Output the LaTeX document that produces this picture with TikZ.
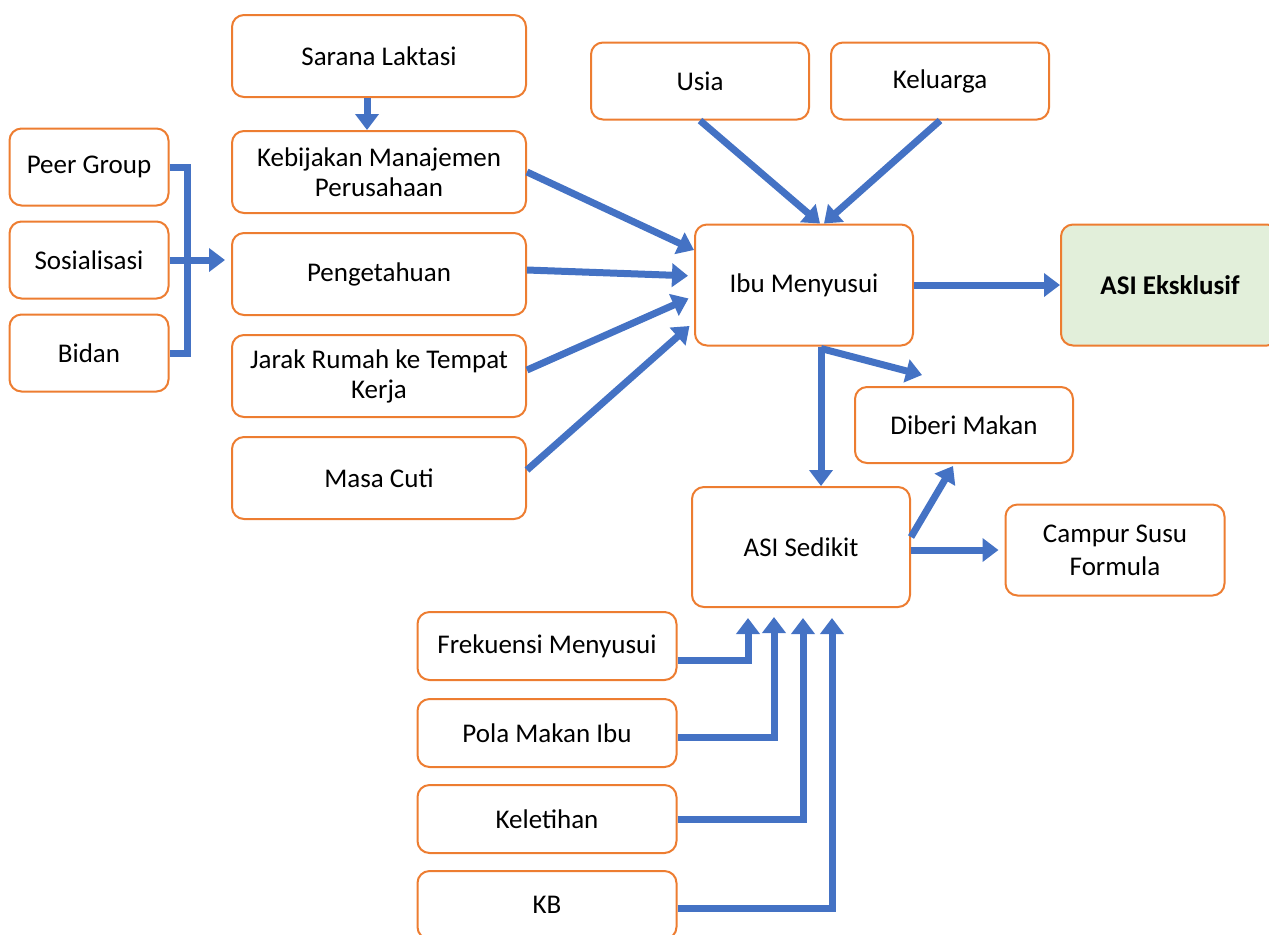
\documentclass[tikz,border=0pt]{standalone}
\usepackage{fontspec}
\setmainfont{Carlito}
\usepackage{tikz}
\usepackage{xcolor}
\usetikzlibrary{arrows.meta}
\usetikzlibrary{calc}

\definecolor{boxorange}{HTML}{ED7D31}
\definecolor{flowblue}{HTML}{4472C4}
\definecolor{asigreen}{HTML}{E2EFDA}

\tikzset{
  factorbox/.style={draw=boxorange, line width=1pt, rounded corners=6pt, fill=white,
    align=center, inner sep=2pt, font=\fontsize{13.5}{15}\selectfont},
  flow/.style={draw=flowblue, line width=3.5pt, -{Triangle[width=11.5pt,length=8pt]}},
  flowline/.style={draw=flowblue, line width=3.5pt}
}

\begin{document}
\begin{tikzpicture}[x=0.5pt,y=-0.5pt]
        \newcommand{\figmidw}{147pt}
        \newcommand{\figmidh}{41pt}
        \newcommand{\figleftw}{79.5pt}
        \newcommand{\figlefth}{38.5pt}
        \newcommand{\figsmallw}{109pt}
        \newcommand{\figbigh}{60.5pt}
        \newcommand{\figlowW}{129.5pt}
        \newcommand{\figlowh}{34pt}
        \useasboundingbox (0,0) rectangle (1269,934);
        \node[factorbox, minimum width=\figmidw, minimum height=\figmidh] (sarana) at (379,56) {Sarana Laktasi};
        \node[factorbox, minimum width=\figmidw, minimum height=\figmidh] (kebijakan) at (379,172) {Kebijakan Manajemen\\Perusahaan};
        \node[factorbox, minimum width=\figmidw, minimum height=\figmidh] (pengetahuan) at (379,274) {Pengetahuan};
        \node[factorbox, minimum width=\figmidw, minimum height=\figmidh] (jarak) at (379,376) {Jarak Rumah ke Tempat\\Kerja};
        \node[factorbox, minimum width=\figmidw, minimum height=\figmidh] (masacuti) at (379,478) {Masa Cuti};
        \node[factorbox, minimum width=\figleftw, minimum height=\figlefth] (peer) at (89,167) {Peer Group};
        \node[factorbox, minimum width=\figleftw, minimum height=\figlefth] (sosial) at (89,260) {Sosialisasi};
        \node[factorbox, minimum width=\figleftw, minimum height=\figlefth] (bidan) at (89,353) {Bidan};
        \node[factorbox, minimum width=\figsmallw, minimum height=\figlefth] (usia) at (700,81) {Usia};
        \node[factorbox, minimum width=\figsmallw, minimum height=\figlefth] (keluarga) at (940,81) {Keluarga};
        \node[factorbox, minimum width=\figsmallw, minimum height=\figbigh] (ibu) at (804,285) {Ibu Menyusui};
        \node[factorbox, fill=asigreen, font=\fontsize{13.5}{15}\selectfont\bfseries, minimum width=\figsmallw, minimum height=\figbigh] (asiex) at (1170,285) {ASI Eksklusif};
        \node[factorbox, minimum width=\figsmallw, minimum height=38pt] (diberi) at (964,425) {Diberi Makan};
        \node[factorbox, minimum width=\figsmallw, minimum height=60pt] (sedikit) at (801,547) {ASI Sedikit};
        \node[factorbox, font=\fontsize{13.5}{16.5}\selectfont, minimum width=109.5pt, minimum height=45.5pt] (campur) at (1115,550) {Campur Susu\\Formula};
        \node[factorbox, minimum width=\figlowW, minimum height=\figlowh] (frek) at (547,646) {Frekuensi Menyusui};
        \node[factorbox, minimum width=\figlowW, minimum height=\figlowh] (pola) at (547,733) {Pola Makan Ibu};
        \node[factorbox, minimum width=\figlowW, minimum height=\figlowh] (letih) at (547,819) {Keletihan};
        \node[factorbox, minimum width=\figlowW, minimum height=\figlowh] (kb) at (547,905) {KB};
        \coordinate (join) at (187,260);
        \draw[flow] ([xshift=-6pt]sarana.south) -- ([xshift=-6pt]kebijakan.north);
        \draw[flowline] (peer.east) -| (join) |- (bidan.east);
        \draw[flow, shorten >=3pt] (sosial.east) -- (sosial.east -| pengetahuan.west);
        \draw[flow] (kebijakan.east) -- ([yshift=17.5pt]ibu.west);
        \draw[flow, shorten >=3pt] ([yshift=2pt]pengetahuan.east) -- ([yshift=4.5pt]ibu.west);
        \draw[flow, shorten >=3pt] ([yshift=3pt]jarak.east) -- ([yshift=-5.5pt]ibu.west);
        \draw[flow, shorten >=3pt] ([yshift=4pt]masacuti.east) -- ([yshift=-18.5pt]ibu.west);
        \draw[flow] (usia.south) -- ([xshift=8pt]ibu.north);
        \draw[flow] (keluarga.south) -- ([xshift=10pt]ibu.north);
        \draw[flow] (ibu.east) -- (asiex.west);
        \draw[flow] ([xshift=8.5pt]ibu.south) -- ([xshift=8.5pt]ibu.south |- sedikit.north);
        \draw[flow] ([xshift=8.5pt,yshift=-1pt]ibu.south) -- ([xshift=-21pt,yshift=5.5pt]diberi.north);
        \draw[flow] ([yshift=5pt]sedikit.east) -- ([xshift=-5.5pt,yshift=-1pt]diberi.south);
        \draw[flow, shorten >=3pt] ([yshift=-1.5pt]sedikit.east) -- ([yshift=-1.5pt]sedikit.east -| campur.west);
        \draw[flow] ([yshift=-7pt]frek.east) -| ([xshift=-26.5pt,yshift=-5pt]sedikit.south);
        \draw[flow] ([yshift=-2pt]pola.east) -| ([xshift=-13.5pt,yshift=-4.5pt]sedikit.south);
        \draw[flow] (letih.east) -| ([xshift=1pt,yshift=-5pt]sedikit.south);
        \draw[flow] ([yshift=-1.5pt]kb.east) -| ([xshift=15.5pt,yshift=-5pt]sedikit.south);
        \end{tikzpicture}
\end{document}
